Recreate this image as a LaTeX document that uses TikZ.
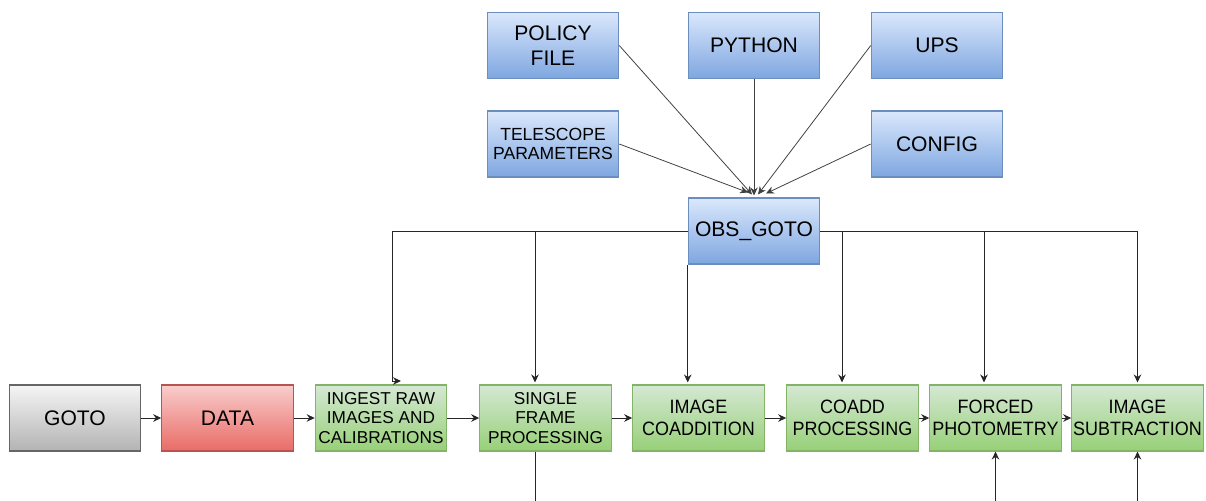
\documentclass[tikz,border=0pt]{standalone}
\usepackage{fontspec}
\setmainfont{Liberation Sans}
\newfontfamily\narrowsans[FakeStretch=0.93]{Liberation Sans}
\usetikzlibrary{arrows.meta,calc}
\definecolor{bluetop}{HTML}{DAE8FC}
\definecolor{bluebot}{HTML}{7EA6E0}
\definecolor{blueline}{HTML}{6C8EBF}
\definecolor{greentop}{HTML}{D5E8D4}
\definecolor{greenbot}{HTML}{97D077}
\definecolor{greenline}{HTML}{82B366}
\definecolor{redtop}{HTML}{F8CECC}
\definecolor{redbot}{HTML}{EA6B66}
\definecolor{redline}{HTML}{B85450}
\definecolor{graytop}{HTML}{F5F5F5}
\definecolor{graybot}{HTML}{B3B3B3}
\definecolor{grayline}{HTML}{666666}
\begin{document}
\begin{tikzpicture}[
  box/.style={draw, line width=0.6pt, minimum width=2.63cm, minimum height=1.32cm,
    align=center, inner sep=0.5pt, font=\fontsize{12}{14.2}\selectfont},
  bluebox/.style={box, draw=blueline, top color=bluetop, bottom color=bluebot},
  greenbox/.style={box, draw=greenline, top color=greentop, bottom color=greenbot,
    font=\narrowsans\fontsize{11}{12.3}\selectfont},
  redbox/.style={box, draw=redline, top color=redtop, bottom color=redbot},
  graybox/.style={box, draw=grayline, top color=graytop, bottom color=graybot},
  threeline/.style={font=\fontsize{9.8}{11.3}\selectfont},
  arr/.style={-{Stealth[length=1.6mm,width=1.5mm]}, line width=0.55pt, draw=black!85},
  thinarr/.style={-{Stealth[length=1.6mm,width=1.5mm]}, line width=0.45pt, draw=black!75}
]
\useasboundingbox (0,0) rectangle (24.12,-10.02);

\node[bluebox] (policy) at (11.06,-0.91) {POLICY\\FILE};
\node[bluebox] (python) at (15.08,-0.91) {PYTHON};
\node[bluebox] (ups) at (18.74,-0.91) {UPS};
\node[bluebox, font=\fontsize{10}{11.3}\selectfont] (telescope) at (11.06,-2.88) {TELESCOPE\\PARAMETERS};
\node[bluebox] (config) at (18.74,-2.88) {CONFIG};
\node[bluebox] (obs) at (15.08,-4.62) {OBS\_GOTO};

\node[graybox] (goto) at (1.5,-8.36) {GOTO};
\node[redbox] (data) at (4.55,-8.36) {DATA};
\node[greenbox, threeline] (ingest) at (7.62,-8.36) {INGEST RAW\\IMAGES AND\\CALIBRATIONS};
\node[greenbox, threeline] (single) at (10.91,-8.36) {SINGLE\\FRAME\\PROCESSING};
\node[greenbox] (coadd) at (13.97,-8.36) {IMAGE\\COADDITION};
\node[greenbox] (coaddproc) at (17.05,-8.36) {COADD\\PROCESSING};
\node[greenbox] (forced) at (19.91,-8.36) {FORCED\\PHOTOMETRY};
\node[greenbox] (imsub) at (22.75,-8.36) {IMAGE\\SUBTRACTION};

\coordinate (tipT) at ($(obs.north)+(-0.12,0.10)$);
\coordinate (tipP) at ($(obs.north)+(-0.04,0.06)$);
\coordinate (tipY) at ($(obs.north)+(0,0.04)$);
\coordinate (tipU) at ($(obs.north)+(0.08,0.06)$);
\coordinate (tipC) at ($(obs.north)+(0.24,0.08)$);
\draw[thinarr] (telescope.east) -- (tipT);
\draw[thinarr] (policy.east) -- (tipP);
\draw[thinarr] (python.south) -- (tipY);
\draw[thinarr] (ups.west) -- (tipU);
\draw[thinarr] (config.west) -- (tipC);

\coordinate (ingestin) at (8.02,-7.62);
\draw[arr] (obs.west) -| ($(ingestin)+(-0.18,0)$) -- (ingestin);
\draw[arr] (obs.west) -| ($(single.north)+(-0.21,0.04)$);
\draw[arr] (obs.south west) -- ($(obs.south west |- coadd.north)+(0,0.04)$);
\draw[arr] (obs.east) -| ($(coaddproc.north)+(-0.21,0.04)$);
\draw[arr] (obs.east) -| ($(forced.north)+(-0.23,0.04)$);
\draw[arr] (obs.east) -| ($(imsub.north)+(0,0.04)$);

\draw[arr] (goto) -- (data);
\draw[arr] (data) -- (ingest);
\draw[arr] (ingest) -- (single);
\draw[arr] (single) -- (coadd);
\draw[arr] (coadd) -- (coaddproc);
\draw[arr] (coaddproc) -- (forced);
\draw[arr] (forced) -- (imsub);

\coordinate (singleout) at (10.70,-10.02);
\draw[line width=0.55pt, black!85] ($(single.south)+(-0.21,0)$) -- (singleout);
\draw[arr] (forced.south |- 0,-10.02) -- (forced.south);
\draw[arr] (imsub.south |- 0,-10.02) -- (imsub.south);
\end{tikzpicture}
\end{document}
